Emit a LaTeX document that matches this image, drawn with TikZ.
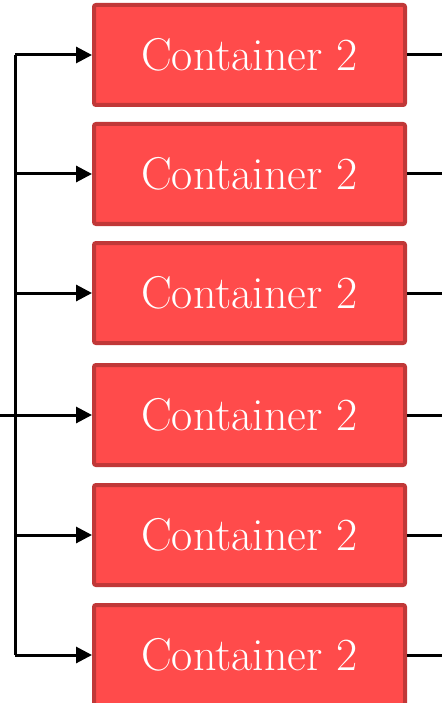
\documentclass[tikz,border=0pt]{standalone}
\usetikzlibrary{arrows.meta}
\definecolor{boxred}{HTML}{FF4B4B}
\definecolor{boxedge}{HTML}{C03838}
\tikzset{
  container/.style={draw=boxedge, fill=boxred, line width=4pt, rounded corners=2pt,
    minimum width=311pt, minimum height=100pt, inner sep=0pt,
    text=white, font=\fontsize{46}{54}\selectfont},
  wire/.style={line width=3pt}
}
\begin{document}
\begin{tikzpicture}[x=1pt,y=-1pt]
\useasboundingbox (0,0) rectangle (442,703);

\foreach \i/\y in {1/55,2/174,3/293,4/415,5/535,6/655} {
  \node[container] (c\i) at (249.5,\y) {Container 2};
  \coordinate (b\i) at (15,\y);
  \coordinate (o\i) at (442,\y);
  \draw[wire,-{Triangle[length=16pt,width=16pt]}] (b\i) -- (c\i.west);
  \draw[wire] (c\i.east) -- (o\i);
}
\coordinate (in) at (0,415);
\draw[wire] (b1) -- (b6);
\draw[wire] (in) -- (b4);
\end{tikzpicture}
\end{document}
